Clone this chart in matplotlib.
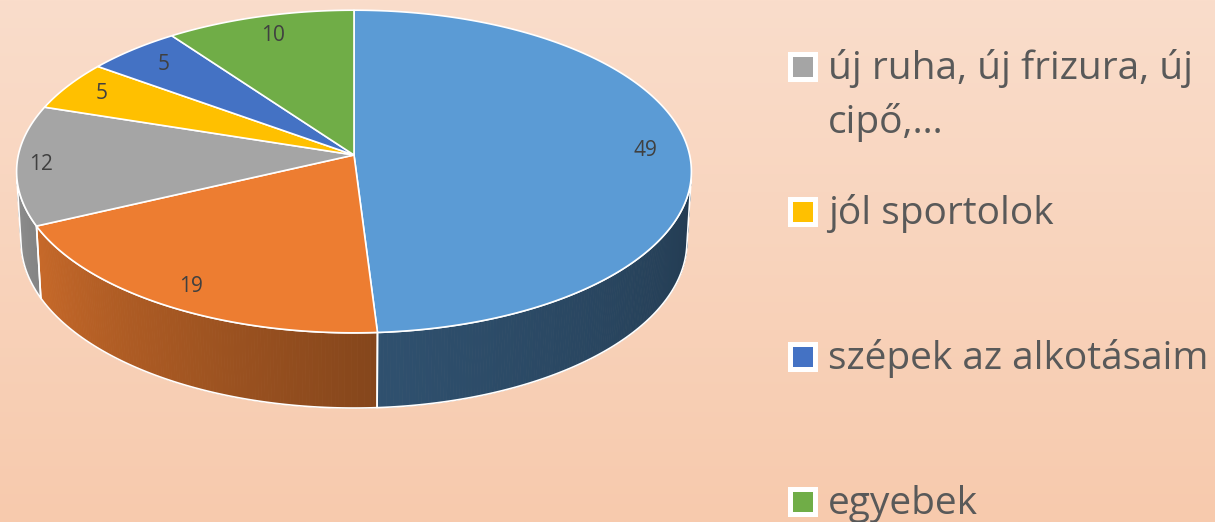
import numpy as np
import matplotlib
matplotlib.use("Agg")
import matplotlib.pyplot as plt
from matplotlib.patches import Polygon, Rectangle
from matplotlib.colors import to_rgb

# ---------------- data ----------------
values = [49, 19, 12, 5, 5, 10]
legend_labels = ["", "", "új ruha, új frizura, új\ncipő,…", "jól sportolok",
                 "szépek az alkotásaim", "egyebek"]
colors = ["#5B9BD5", "#ED7D31", "#A5A5A5", "#FFC000", "#4472C4", "#70AD47"]

# ---------------- style ----------------
# (left factor, right factor) of side shading on screen
side_shade = [(0.52, 0.38), (0.84, 0.56), (0.86, 0.80), (0.8, 0.7), (0.6, 0.5), (0.7, 0.6)]
label_r = [0.87, 0.88, 0.93, 0.88, 0.85, 0.85]
W, H = 1215, 522
cx, cy = 354, 155
alpha = np.deg2rad(28.4)
sa, ca = np.sin(alpha), np.cos(alpha)
Dist, foc, thick = 8.59, 2883.0, 0.24
FONT = "Open Sans"


def proj(X, Y, Z):
    u = Y * ca - Z * sa
    d = Dist - Z * ca - Y * sa
    return cx + foc * X / d, cy - foc * u / d


def arc(t0, t1, Y, r=1.0, n=None):
    if n is None:
        n = max(int(abs(t1 - t0) * 2) + 2, 3)
    th = np.deg2rad(np.linspace(t0, t1, n))
    return proj(r * np.sin(th), Y * np.ones_like(th), -r * np.cos(th))


fig = plt.figure(figsize=(W / 100, H / 100), dpi=100)
ax = fig.add_axes([0, 0, 1, 1])
ax.set_xlim(0, W)
ax.set_ylim(H, 0)
ax.axis("off")

# background gradient
top = np.array(to_rgb("#FADDCB"))
bot = np.array(to_rgb("#F7CAAD"))
g = np.linspace(0, 1, 256)[:, None, None]
grad = top * (1 - g) + bot * g
grad = np.repeat(grad, 2, axis=1)
ax.imshow(grad, extent=[0, W, H, 0], aspect="auto", zorder=0)

total = float(sum(values))
bounds = np.concatenate([[0], np.cumsum(values) / total * 360.0])
vis0 = np.rad2deg(np.arccos(-1.0 / (Dist * ca)))
vis1 = 360 - vis0

# side faces
for i in range(len(values)):
    a0, a1 = max(bounds[i], vis0), min(bounds[i + 1], vis1)
    if a1 <= a0:
        continue
    base = np.array(to_rgb(colors[i]))
    kl, kr = side_shade[i]
    steps = np.linspace(a0, a1, max(int((a1 - a0) * 2), 2) + 1)
    for j in range(len(steps) - 1):
        # angle increases right -> left on the front side
        s = 1.0 - (0.5 * (steps[j] + steps[j + 1]) - a0) / (a1 - a0)
        c = np.clip(base * (kl + (kr - kl) * s), 0, 1)
        xt, yt = arc(steps[j], steps[j + 1], 0.0, n=3)
        xb, yb = arc(steps[j], steps[j + 1], -thick, n=3)
        poly = np.column_stack([np.r_[xt, xb[::-1]], np.r_[yt, yb[::-1]]])
        ax.add_patch(Polygon(poly, closed=True, facecolor=c, edgecolor=c,
                             lw=0.6, zorder=2))
    xt, yt = arc(a0, a1, 0.0)
    xb, yb = arc(a0, a1, -thick)
    poly = np.column_stack([np.r_[xt, xb[::-1]], np.r_[yt, yb[::-1]]])
    ax.add_patch(Polygon(poly, closed=True, facecolor="none", edgecolor="white",
                         lw=1.2, zorder=3, joinstyle="round"))

# top faces
for i in range(len(values)):
    xa, ya = arc(bounds[i], bounds[i + 1], 0.0)
    ccx, ccy = proj(0.0, 0.0, 0.0)
    poly = np.column_stack([np.r_[ccx, xa], np.r_[ccy, ya]])
    ax.add_patch(Polygon(poly, closed=True, facecolor=colors[i], edgecolor="white",
                         lw=1.2, zorder=4, joinstyle="round"))
    mid = np.deg2rad(0.5 * (bounds[i] + bounds[i + 1]))
    r = label_r[i]
    lx, ly = proj(r * np.sin(mid), 0.0, -r * np.cos(mid))
    ax.text(lx, ly, str(values[i]), ha="center", va="center", fontsize=15,
            color="#404040", family=FONT, zorder=5)

# legend (entries continue above the visible area)
leg_x, leg_y0, leg_dy = 788, 67 - 2 * 145, 145
for i, lab in enumerate(legend_labels):
    yc = leg_y0 + i * leg_dy
    if yc < -40:
        continue
    ax.add_patch(Rectangle((leg_x, yc - 15), 30, 30, facecolor="white",
                           edgecolor="none", zorder=5))
    ax.add_patch(Rectangle((leg_x + 5, yc - 10), 20, 20, facecolor=colors[i],
                           edgecolor="none", zorder=6))
    for j, line in enumerate(lab.split("\n")):
        ax.text(leg_x + 40, yc + 12 + 54 * j, line, ha="left", va="baseline",
                fontsize=28, color="#595959", family=FONT, zorder=6)

fig.savefig("out.png", dpi=100)
